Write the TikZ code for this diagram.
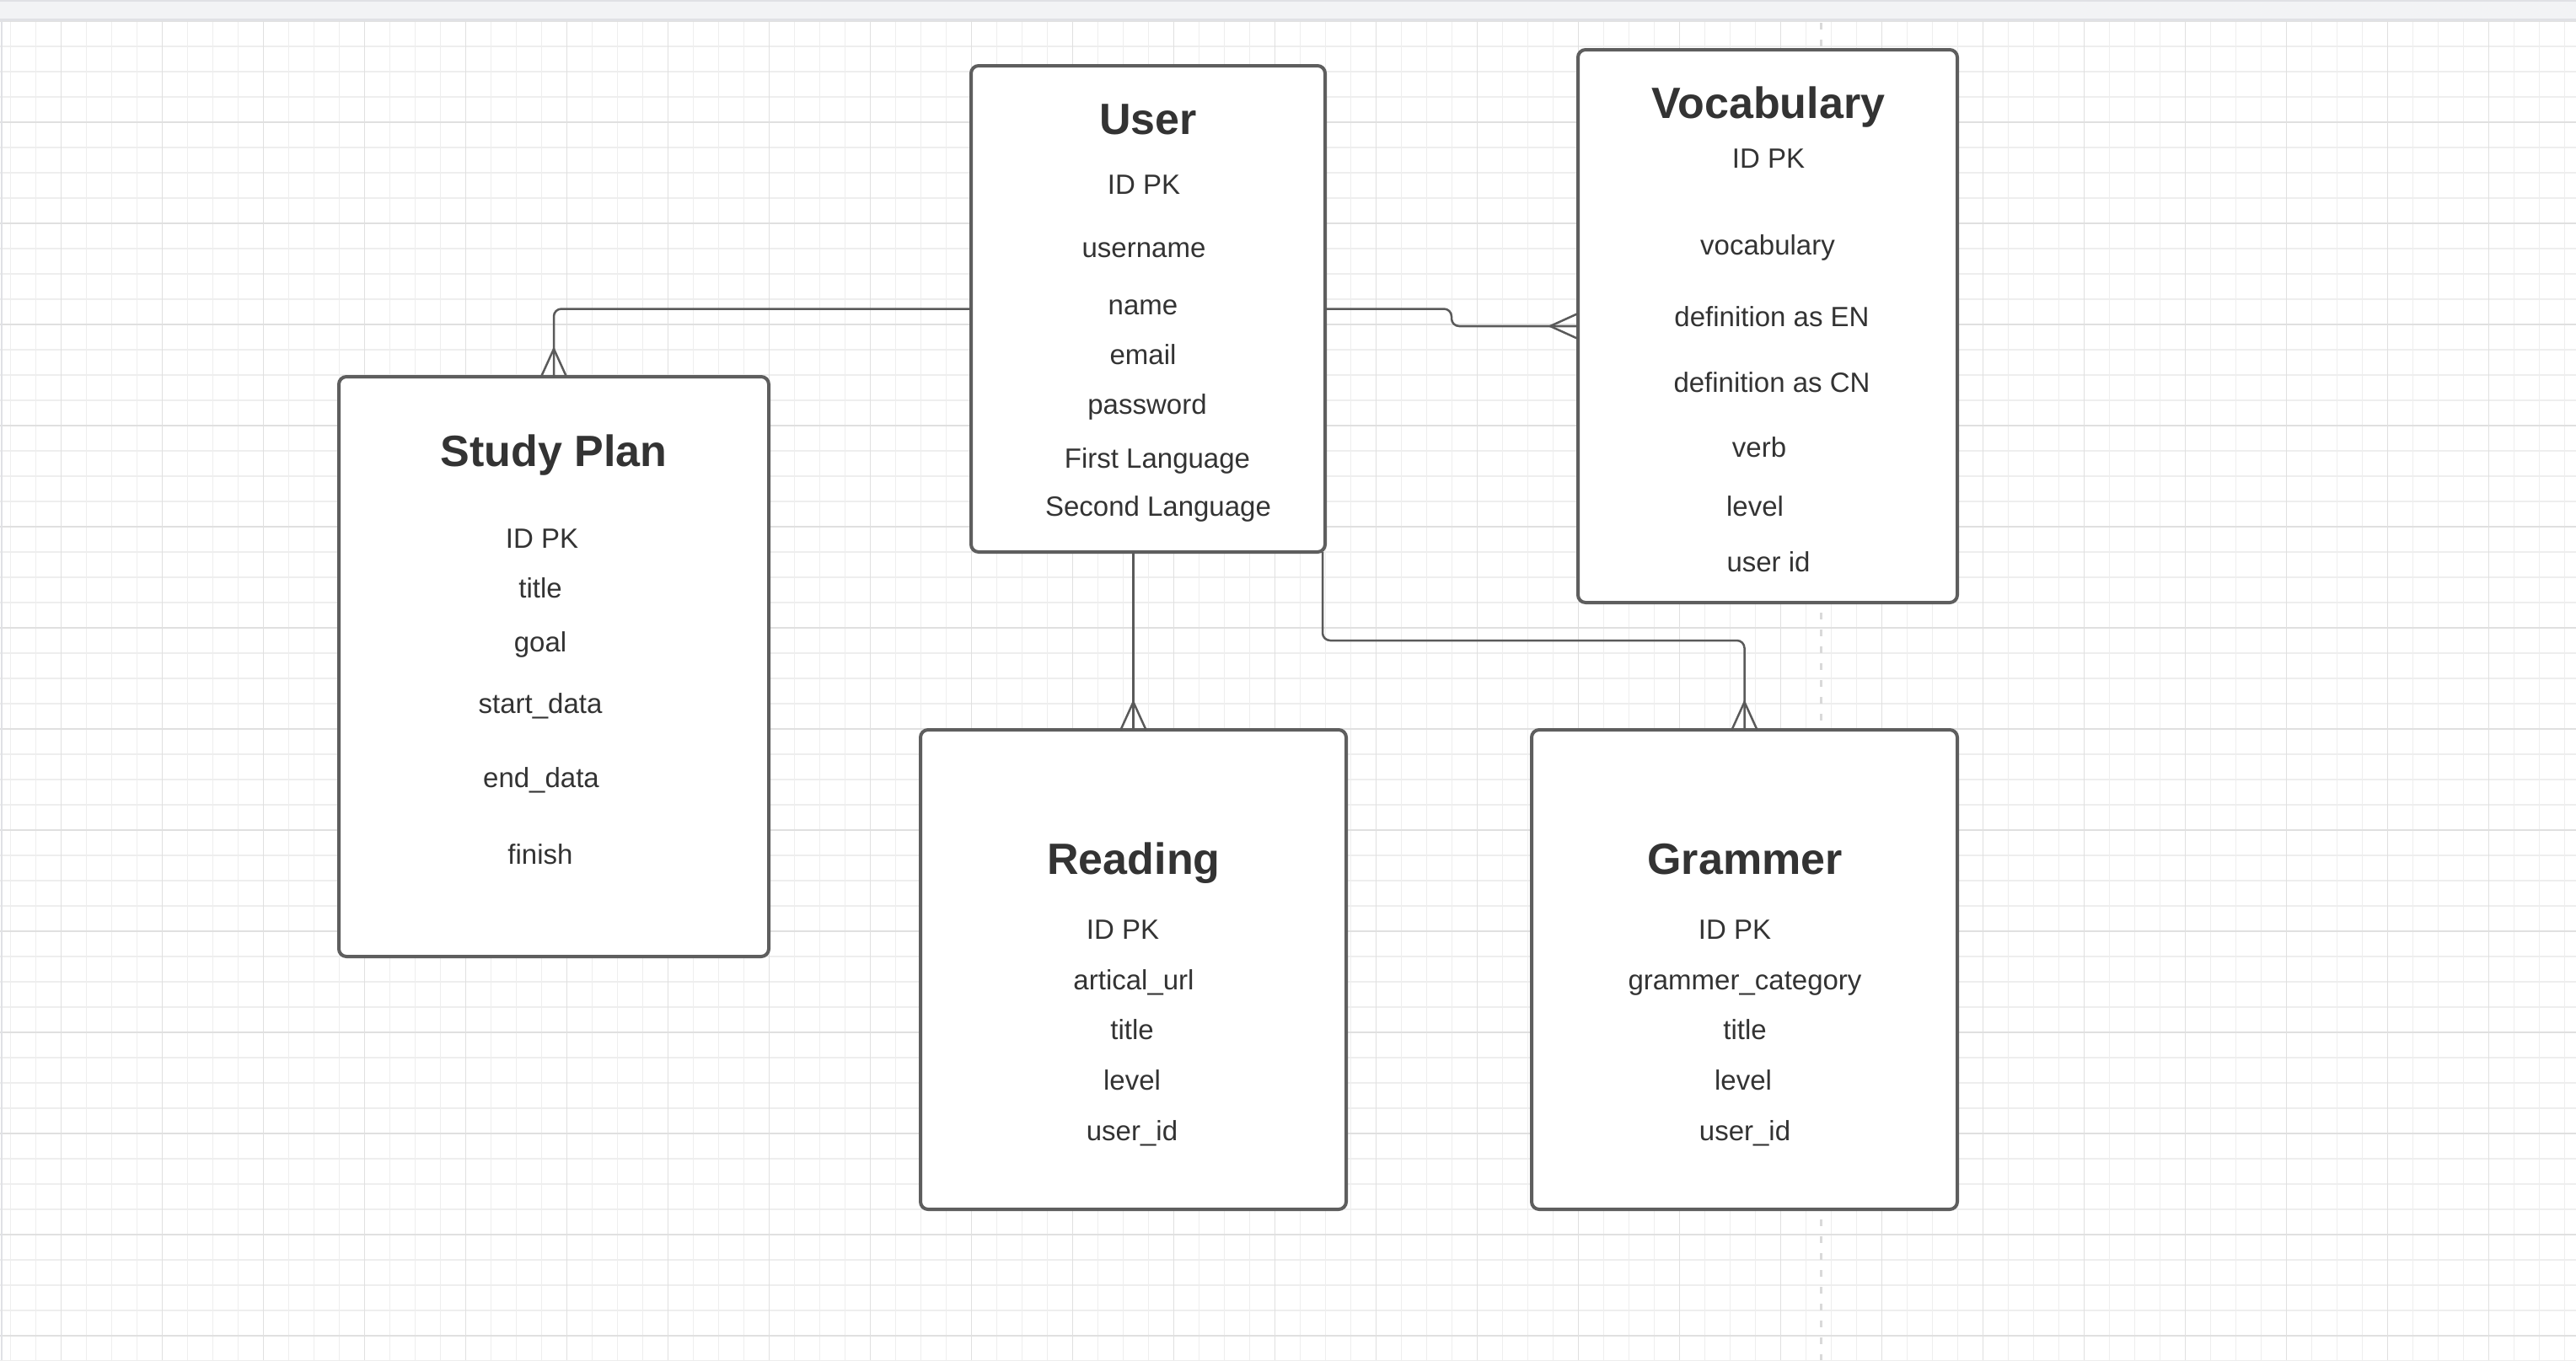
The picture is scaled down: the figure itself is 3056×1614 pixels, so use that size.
\documentclass[tikz,border=0pt]{standalone}
\usepackage{fontspec}
\setmainfont{Liberation Sans}
\usetikzlibrary{calc}
\definecolor{txt}{HTML}{333333}
\definecolor{boxline}{HTML}{5E5E5E}
\definecolor{connline}{HTML}{5A5A5A}
\definecolor{gridminor}{HTML}{EEEEEE}
\definecolor{gridmajor}{HTML}{E0E0E0}
\definecolor{barfill}{HTML}{F2F3F5}
\definecolor{barline}{HTML}{E0E1E5}
\definecolor{dashcol}{HTML}{D9D9D9}
\tikzset{
  entity/.style={draw=boxline, line width=4pt, fill=white, rounded corners=9pt,
    anchor=north west, inner sep=0pt, outer sep=0pt},
  attr/.style={anchor=base, text=txt, inner sep=0pt, font=\fontsize{33}{40}\selectfont},
  ttl/.style={anchor=base, text=txt, inner sep=0pt, font=\fontsize{52}{60}\selectfont\bfseries},
  conn/.style={draw=connline, line width=2.5pt, rounded corners=9pt},
  foot/.style={draw=connline, line width=2.5pt},
  minorgrid/.style={draw=gridminor, line width=1.3pt},
  majorgrid/.style={draw=gridmajor, line width=1.8pt}
}
\begin{document}
\begin{tikzpicture}[x=1pt, y=-1pt]
\useasboundingbox (0,0) rectangle (3056,1614);
\fill[white] (0,0) rectangle (3056,1614);
% grid
\foreach \i in {0,...,101} \draw[minorgrid] ({12.5+30*\i},25) -- ({12.5+30*\i},1614);
\foreach \j in {0,...,53} \draw[minorgrid] (0,{25+30*\j}) -- (3056,{25+30*\j});
\foreach \i in {0,...,24} \draw[majorgrid] ({72.5+120*\i},25) -- ({72.5+120*\i},1614);
\foreach \j in {0,...,13} \draw[majorgrid] (0,{25+120*\j}) -- (3056,{25+120*\j});
% top bar and left border
\fill[barfill] (0,0) rectangle (3056,24);
\draw[barline, line width=3pt] (0,23.5) -- (3056,23.5);
\draw[barline, line width=2pt] (0,1) -- (3056,1);
\draw[barline, line width=2pt] (1.5,24) -- (1.5,1614);
% dashed guide
\draw[dashcol, line width=3pt, dash pattern=on 8pt off 12pt] (2160,27) -- (2160,1614);

% entities
\node[entity, minimum width=420pt, minimum height=577pt] (user) at (1152,78) {};
\node[entity, minimum width=450pt, minimum height=656pt] (vocab) at (1872,59) {};
\node[entity, minimum width=510pt, minimum height=688pt] (study) at (402,447) {};
\node[entity, minimum width=505pt, minimum height=569pt] (reading) at (1092,866) {};
\node[entity, minimum width=505pt, minimum height=569pt] (grammer) at (1817,866) {};

% User
\node[ttl] (userT) at (1362,159) {User};
\node[attr] (u1) at (1357,230) {ID PK};
\node[attr] (u2) at (1357,305) {username};
\node[attr] (u3) at (1356,373) {name};
\node[attr] (u4) at (1356,432) {email};
\node[attr] (u5) at (1361,491) {password};
\node[attr] (u6) at (1373,555) {First Language};
\node[attr] (u7) at (1374,612) {Second Language};

% Vocabulary
\node[ttl] (vocabT) at (2098,140) {Vocabulary};
\node[attr] (v1) at (2098,199) {ID PK};
\node[attr] (v2) at (2097,302) {vocabulary};
\node[attr] (v3) at (2102,387) {definition as EN};
\node[attr] (v4) at (2102,465) {definition as CN};
\node[attr] (v5) at (2087,542) {verb};
\node[attr] (v6) at (2082,612) {level};
\node[attr] (v7) at (2098,678) {user id};

% Study Plan
\node[ttl] (studyT) at (657,553) {Study Plan};
\node[attr] (s1) at (643,650) {ID PK};
\node[attr] (s2) at (641,709) {title};
\node[attr] (s3) at (641,773) {goal};
\node[attr] (s4) at (641,846) {start\_data};
\node[attr] (s5) at (642,934) {end\_data};
\node[attr] (s6) at (641,1025) {finish};

% Reading
\node[ttl] (readingT) at (1345,1037) {Reading};
\node[attr] (r1) at (1332,1114) {ID PK};
\node[attr] (r2) at (1345,1174) {artical\_url};
\node[attr] (r3) at (1343,1233) {title};
\node[attr] (r4) at (1343,1293) {level};
\node[attr] (r5) at (1343,1353) {user\_id};

% Grammer
\node[ttl] (grammerT) at (2070,1037) {Grammer};
\node[attr] (g1) at (2058,1114) {ID PK};
\node[attr] (g2) at (2070,1174) {grammer\_category};
\node[attr] (g3) at (2070,1233) {title};
\node[attr] (g4) at (2068,1293) {level};
\node[attr] (g5) at (2070,1353) {user\_id};

% connectors
\draw[conn] (user.west) -| (study.north);
\draw[foot] ([xshift=-15pt]study.north) -- ([yshift=33pt]study.north) -- ([xshift=15pt]study.north);

\coordinate (jog) at ($(user.east)!0.5!(vocab.west)$);
\draw[conn] (user.east) -| (jog |- vocab.west) -- (vocab.west);
\draw[foot] ([yshift=15pt]vocab.west) -- ([xshift=-33pt]vocab.west) -- ([yshift=-15pt]vocab.west);

\draw[conn] (reading.north |- user.south) -- (reading.north);
\draw[foot] ([xshift=-15pt]reading.north) -- ([yshift=33pt]reading.north) -- ([xshift=15pt]reading.north);

\coordinate (ustart) at ([xshift=-3pt]user.south east);
\draw[conn] (ustart) -- ++(0,105) -| (grammer.north);
\draw[foot] ([xshift=-15pt]grammer.north) -- ([yshift=33pt]grammer.north) -- ([xshift=15pt]grammer.north);
\end{tikzpicture}
\end{document}
